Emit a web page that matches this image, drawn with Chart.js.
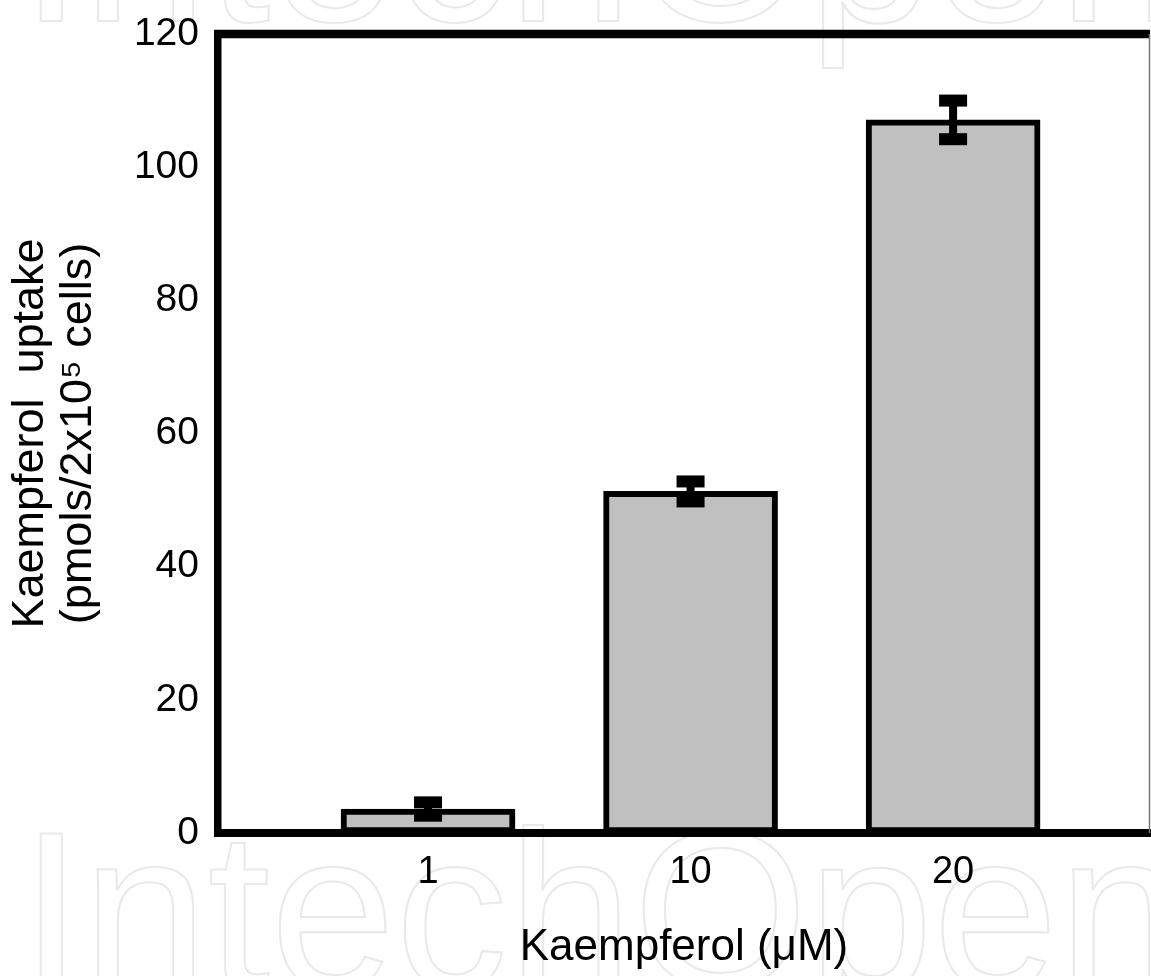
<!DOCTYPE html>
<html>
<head>
<meta charset="utf-8">
<title>Kaempferol uptake</title>
<script src="https://cdn.jsdelivr.net/npm/chart.js@4.4.1/dist/chart.umd.min.js"></script>
<style>
    html, body { margin: 0; padding: 0; background: #ffffff; }
    #wrap { width: 1151px; height: 976px; }
</style>
</head>
<body>
<div id="wrap"><canvas id="uptakeChart" width="1151" height="976"></canvas></div>
<script>
// Data
const categories = ['1', '10', '20'];
const uptake = [3.6, 51.3, 107.1];
const uptakeErr = [1.0, 1.5, 2.9];
const yTicks = [0, 20, 40, 60, 80, 100, 120];

const watermarkText = 'IntechOpen';

// Faint watermark behind the plot
const watermarkPlugin = {
    id: 'watermark',
    beforeDraw(chart) {
        const ctx = chart.ctx;
        ctx.save();
        ctx.font = '225px "Liberation Sans", Arial, sans-serif';
        ctx.strokeStyle = '#e9e9e9';
        ctx.lineWidth = 2;
        ctx.textBaseline = 'alphabetic';
        ctx.strokeText(watermarkText, 20, 21);
        ctx.strokeText(watermarkText, 20, 988);
        ctx.restore();
    }
};

// Error bars drawn as thick caps
const errorBarPlugin = {
    id: 'errorBars',
    afterDatasetsDraw(chart) {
        const ctx = chart.ctx;
        const x = chart.scales.x;
        const y = chart.scales.y;
        ctx.save();
        ctx.fillStyle = '#000000';
        uptake.forEach((v, i) => {
            const px = x.getPixelForValue(i);
            const top = y.getPixelForValue(v + uptakeErr[i]);
            const bot = y.getPixelForValue(v - uptakeErr[i]);
            ctx.fillRect(px - 4, top, 8, bot - top);
            ctx.fillRect(px - 14, top - 6, 28, 12);
            ctx.fillRect(px - 14, bot - 6, 28, 12);
        });
        ctx.restore();
    }
};

// Frame: thick top line, thin right line
const framePlugin = {
    id: 'frame',
    afterDraw(chart) {
        const ctx = chart.ctx;
        const a = chart.chartArea;
        ctx.save();
        ctx.fillStyle = '#000000';
        ctx.fillRect(a.left - 3.75, a.top - 4.25, a.right - a.left + 3.75, 8.5);
        ctx.strokeStyle = '#777777';
        ctx.lineWidth = 1.5;
        ctx.beginPath();
        ctx.moveTo(a.right - 0.5, a.top);
        ctx.lineTo(a.right - 0.5, a.bottom);
        ctx.stroke();
        ctx.restore();
    }
};

const chartConfig = {
    type: 'bar',
    data: {
        datasets: [{
            label: 'Kaempferol uptake',
            data: uptake.map((v, i) => ({ x: i, y: v })),
            backgroundColor: '#c0c0c0',
            borderColor: '#000000',
            borderWidth: 6,
            borderSkipped: false,
            barThickness: 174
        }]
    },
    options: {
        responsive: false,
        animation: false,
        layout: {
            padding: { top: 34, right: 1, left: 0, bottom: 0 }
        },
        plugins: {
            legend: { display: false },
            tooltip: { enabled: false }
        },
        scales: {
            x: {
                type: 'linear',
                min: -0.8,
                max: 2.75,
                offset: false,
                z: 1,
                grid: { display: false, drawTicks: false, offset: false },
                border: { display: true, color: '#000000', width: 8 },
                afterBuildTicks: (scale) => {
                    scale.ticks = categories.map((c, i) => ({ value: i }));
                },
                afterFit: (scale) => {
                    scale.height = 143;
                    scale.paddingLeft = 0;
                    scale.paddingRight = 0;
                },
                ticks: {
                    color: '#000000',
                    padding: 17,
                    font: { family: '"Liberation Sans", Arial, sans-serif', size: 38 },
                    callback: (value) => categories[Math.round(value)]
                },
                title: {
                    display: true,
                    text: 'Kaempferol (\u03bcM)',
                    color: '#000000',
                    padding: { top: 0, bottom: 2 },
                    font: { family: '"Liberation Sans", Arial, sans-serif', size: 44, lineHeight: 1.2 }
                }
            },
            y: {
                min: 0,
                max: 120,
                z: 1,
                grid: { display: false, drawTicks: false },
                border: { display: true, color: '#000000', width: 7.5 },
                afterBuildTicks: (scale) => {
                    scale.ticks = yTicks.map(v => ({ value: v }));
                },
                afterFit: (scale) => {
                    scale.width = 218;
                    scale.paddingTop = 0;
                    scale.paddingBottom = 0;
                },
                ticks: {
                    color: '#000000',
                    padding: 19,
                    font: { family: '"Liberation Sans", Arial, sans-serif', size: 39 }
                },
                title: {
                    display: true,
                    text: ['Kaempferol  uptake', '(pmols/2x10\u2075 cells)'],
                    color: '#000000',
                    padding: { top: 7, bottom: 0 },
                    font: { family: '"Liberation Sans", Arial, sans-serif', size: 45, lineHeight: 48 / 45 }
                }
            }
        }
    },
    plugins: [watermarkPlugin, errorBarPlugin, framePlugin]
};

// Initialize the chart
const ctx = document.getElementById('uptakeChart').getContext('2d');
const uptakeChart = new Chart(ctx, chartConfig);
</script>
</body>
</html>
